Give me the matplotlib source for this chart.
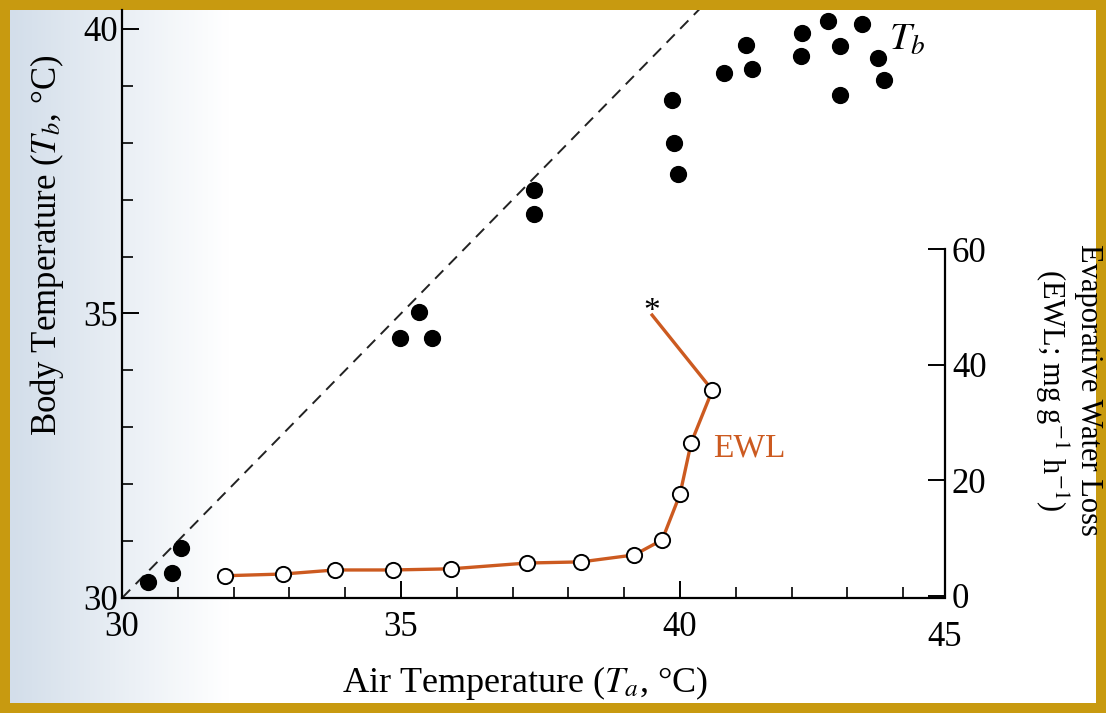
import numpy as np
import matplotlib
matplotlib.use('Agg')
import matplotlib.pyplot as plt
from matplotlib.colors import LinearSegmentedColormap

plt.rcParams['font.family'] = ['Liberation Serif', 'DejaVu Serif']
plt.rcParams['mathtext.fontset'] = 'stix'

# Body temperature points (Ta, Tb)
tb_ta = [30.47, 30.9, 31.05, 34.98, 35.32, 35.56, 37.38, 37.38, 39.86, 39.89, 39.96,
         40.79, 41.18, 41.29, 42.19, 42.17, 42.65, 42.87, 43.26, 42.87, 43.55, 43.66]
tb_val = [30.28, 30.44, 30.88, 34.57, 35.03, 34.57, 37.17, 36.75, 38.75, 38.0, 37.45,
          39.23, 39.72, 39.3, 39.93, 39.53, 40.14, 39.7, 40.09, 38.84, 39.49, 39.1]

# Evaporative water loss (Ta, EWL)
ewl_ta = [31.85, 32.89, 33.82, 34.86, 35.9, 37.26, 38.23, 39.18, 39.68, 40.0, 40.2, 40.58]
ewl_val = [3.5, 3.8, 4.5, 4.5, 4.7, 5.7, 5.9, 7.1, 9.7, 17.6, 26.5, 35.6]
star_ta, star_ewl = 39.5, 48.6

W, H = 1106, 713
fig = plt.figure(figsize=(W / 100, H / 100), dpi=100)
fig.patch.set_facecolor('#c89a10')

# page background with bluish tint on left
bg = fig.add_axes([10 / W, 10 / H, 1 - 20 / W, 1 - 20 / H])
grad = np.clip(np.linspace(0, 1, 400) / 0.2, 0, 1)[None, :]
cmap = LinearSegmentedColormap.from_list('pg', ['#d3deea', '#ffffff'])
bg.imshow(grad, aspect='auto', cmap=cmap, extent=[0, 1, 0, 1])
bg.set_axis_off()

x0, y0 = 122, 598
ax = fig.add_axes([x0 / W, (H - y0) / H, 823 / W, 588 / H])
ax.patch.set_alpha(0)
ax.set_xlim(30, 30 + 823 / 55.8)
ax.set_ylim(30, 30 + 588 / 56.9)
ax.spines['top'].set_visible(False)
ax.spines['right'].set_visible(False)
for s in ['left', 'bottom']:
    ax.spines[s].set_linewidth(1.6)
ax.set_xticks([30, 35, 40])
ax.set_yticks([30, 35, 40])
ax.set_xticks(np.arange(31, 45, 1), minor=True)
ax.set_yticks(np.arange(31, 40, 1), minor=True)
ax.tick_params(which='major', direction='in', length=12, width=1.4, labelsize=25, pad=3)
ax.tick_params(which='minor', direction='in', length=8, width=1.2)
ax.tick_params(axis='x', pad=9)
ax.text(44.75, 29.6, '45', ha='center', va='top', fontsize=25)

ax.plot([30, 41], [30, 41], ls=(0, (6, 4)), color='#222222', lw=1.4)
ax.scatter(tb_ta, tb_val, s=130, color='black', zorder=3)
ax.text(43.75, 39.8, '$T_b$', fontsize=28, ha='left', va='center')

fig.text(525 / W, 1 - 683 / H, 'Air Temperature ($T_a$, °C)', fontsize=26,
         ha='center', va='center')
fig.text(47 / W, 1 - 245 / H, 'Body Temperature ($T_b$, °C)', fontsize=25,
         ha='center', va='center', rotation=90)

ax2 = ax.twinx()
ax2.set_ylim(-0.35, -0.35 + 588 / 5.78)
for s in ['top', 'left', 'bottom']:
    ax2.spines[s].set_visible(False)
ax2.spines['right'].set_bounds(0, 60)
ax2.spines['right'].set_linewidth(1.6)
ax2.set_yticks([0, 20, 40, 60])
ax2.tick_params(direction='in', length=12, width=1.4, labelsize=25, pad=5)

orange = '#cc5a20'
ax2.plot(ewl_ta, ewl_val, color=orange, lw=2.4, zorder=2)
ax2.plot([star_ta, ewl_ta[-1]], [star_ewl, ewl_val[-1]], color=orange, lw=2.4, zorder=2)
ax2.scatter(ewl_ta, ewl_val, s=120, facecolor='white', edgecolor='black', lw=1.4, zorder=3)
ax2.text(star_ta, star_ewl + 0.5, '*', fontsize=24, ha='center', va='center')
ax2.text(40.6, 25.5, 'EWL', color=orange, fontsize=24, ha='left', va='center')

fig.text(1068 / W, 1 - 390 / H, 'Evaporative Water Loss\n(EWL; mg g$^{-1}$ h$^{-1}$)',
         rotation=-90, ha='center', va='center', fontsize=22, linespacing=1.15)

fig.savefig('out.png', dpi=100, facecolor=fig.get_facecolor())
